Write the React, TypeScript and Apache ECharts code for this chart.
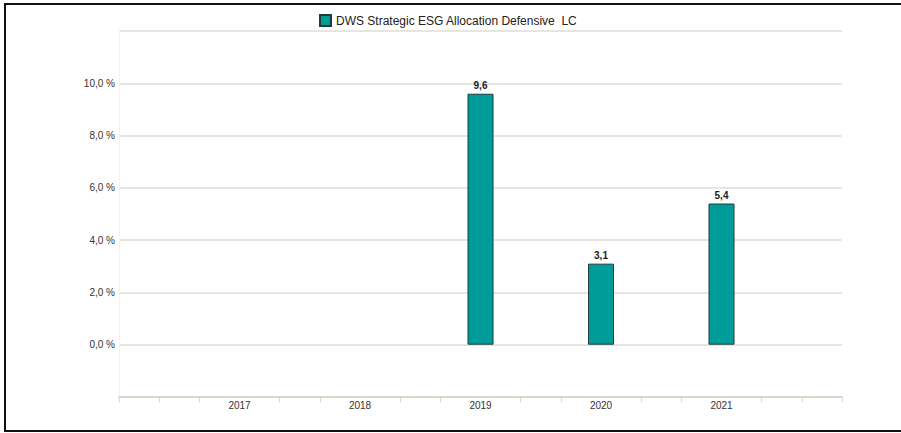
import React, { useEffect, useRef } from "react";
import * as echarts from "echarts";

const seriesName = "DWS Strategic ESG Allocation Defensive  LC";
const years = [2017, 2018, 2019, 2020, 2021];
const values: (number | null)[] = [null, null, 9.6, 3.1, 5.4];
const yLabelMin = 0;
const yLabelMax = 10;

export default function App() {
  const ref = useRef<HTMLDivElement>(null);
  useEffect(() => {
    if (!ref.current) return;
    const chart = echarts.init(ref.current, undefined, { renderer: "svg" });
    const first = years[0] - 1;
    const last = years[years.length - 1] + 1;
    const tickVals: number[] = [first];
    for (let y = first; y < last; y++) {
      tickVals.push(y + 1 / 3, y + 2 / 3);
    }
    tickVals.push(last);
    const font = "'Liberation Sans', Arial, sans-serif";
    chart.setOption({
      animation: false,
      backgroundColor: "#ffffff",
      legend: {
        top: 9,
        left: 314,
        itemWidth: 11,
        itemHeight: 11,
        itemGap: 5,
        textStyle: { fontFamily: font, fontSize: 12, color: "#222" },
        data: [{ name: seriesName, icon: "rect" }],
      },
      grid: { left: 119, right: 59, top: 31, bottom: 36 },
      xAxis: {
        type: "value",
        min: first,
        max: last,
        interval: 1,
        splitLine: { show: false },
        axisLine: { show: true, onZero: false, lineStyle: { color: "#d9d6cc", width: 2 } },
        axisTick: {
          show: true,
          customValues: tickVals,
          length: 5,
          lineStyle: { color: "#d9d6cc", width: 1 },
        },
        axisLabel: {
          customValues: years,
          margin: 3,
          fontFamily: font,
          fontSize: 10,
          color: "#333",
          formatter: (v: number) => String(Math.round(v)),
        },
      },
      yAxis: {
        type: "value",
        min: -2,
        max: 12,
        interval: 2,
        axisLine: { show: true, onZero: false, lineStyle: { color: "#f3f2ee", width: 1 } },
        axisTick: { show: false },
        splitLine: { show: true, lineStyle: { color: "#dfdcd4", width: 1.5 } },
        axisLabel: {
          margin: 4,
          fontFamily: font,
          fontSize: 10,
          color: "#333",
          formatter: (v: number) =>
            v >= yLabelMin && v <= yLabelMax ? v.toFixed(1).replace(".", ",") + " %" : "",
        },
      },
      series: [
        {
          name: seriesName,
          type: "bar",
          barWidth: 26,
          data: years.map((y, i) => [y, values[i]]),
          itemStyle: { color: "#009c9a", borderColor: "#1f3b3b", borderWidth: 1 },
          label: {
            show: true,
            position: "top",
            distance: 3,
            fontFamily: font,
            fontSize: 10,
            fontWeight: "bold",
            color: "#222",
            formatter: (p: any) => String(p.value[1]).replace(".", ","),
          },
        },
      ],
      graphic: [
        {
          type: "rect",
          shape: { x: 5, y: 4, width: 1000, height: 427 },
          style: { fill: "none", stroke: "#111", lineWidth: 2 },
          silent: true,
        },
      ],
    });
    return () => chart.dispose();
  }, []);
  return (
    <div
      ref={ref}
      style={{ position: "absolute", left: 0, top: 0, width: 901, height: 433 }}
    />
  );
}
